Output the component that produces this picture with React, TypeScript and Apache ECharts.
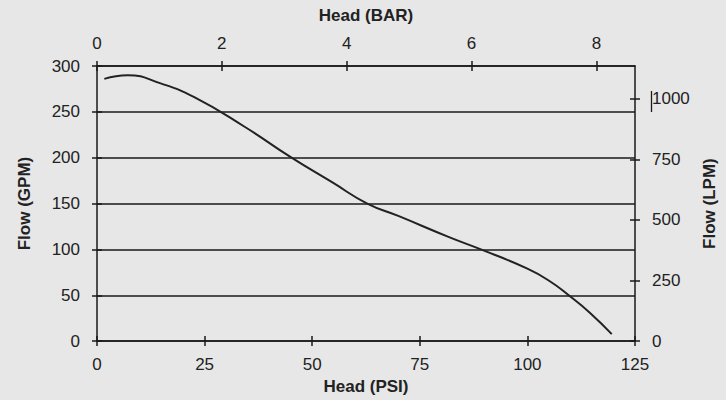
import React, { useEffect, useRef } from "react";
import * as echarts from "echarts";

const headPsi = [1.7, 7.1, 14.8, 22.6, 34.2, 45.2, 54.7, 62.8, 70, 81.8, 89.2, 100, 105.3, 109.6, 114.5, 119.6];
const flowGpm = [286, 290, 281, 266, 234, 200, 173, 150, 136.5, 113.4, 100, 79, 65, 50, 31, 7.6];
const barTicks = [0, 2, 4, 6, 8];
const lpmTicks = [0, 250, 500, 750, 1000];
const PSI_PER_BAR = 14.5038;
const LPM_PER_GPM = 3.78541;
const PSI_MAX = 125;
const GPM_MAX = 300;

const FONT = "'Liberation Sans', Arial, sans-serif";
const INK = "#1a1a1a";

export default function App() {
  const ref = useRef<HTMLDivElement>(null);
  useEffect(() => {
    if (!ref.current) return;
    const chart = echarts.init(ref.current, null, { renderer: "svg" });
    const lbl = { color: "#222", fontSize: 17, fontFamily: FONT, formatter: (v: number) => String(v) };
    const nameStyle = { color: "#222", fontSize: 17, fontWeight: "bold", fontFamily: FONT };
    const line = { show: true, onZero: false, lineStyle: { color: INK, width: 1.5 } };
    const noLine = { show: false, onZero: false };
    const tickOut = { show: true, length: 5, lineStyle: { color: INK, width: 1.5 } };
    const tickIn = { show: true, inside: true, length: 5, lineStyle: { color: INK, width: 1.5 } };
    const barMax = PSI_MAX / PSI_PER_BAR;
    const lpmMax = GPM_MAX * LPM_PER_GPM;
    const data = headPsi.map((x, i) => [x, flowGpm[i]]);
    chart.setOption({
      animation: false,
      backgroundColor: "#e7e7e7",
      grid: { left: 97, right: 90, top: 66, bottom: 57, containLabel: false },
      xAxis: [
        {
          type: "value", position: "bottom", min: 0, max: PSI_MAX, interval: 25,
          name: "Head (PSI)", nameLocation: "middle", nameGap: 36, nameTextStyle: nameStyle,
          axisLine: line, axisTick: tickOut, axisLabel: { ...lbl, margin: 15 }, splitLine: { show: false },
        },
        {
          type: "value", position: "bottom", min: 0, max: PSI_MAX, interval: 25,
          axisLine: noLine, axisTick: tickIn, axisLabel: { show: false }, splitLine: { show: false },
        },
        {
          type: "value", position: "top", min: 0, max: barMax,
          name: "Head (BAR)", nameLocation: "middle", nameGap: 42, nameTextStyle: nameStyle,
          axisLine: line,
          axisTick: { ...tickOut, customValues: barTicks },
          axisLabel: { ...lbl, margin: 14, customValues: barTicks },
          splitLine: { show: false },
        },
        {
          type: "value", position: "top", min: 0, max: barMax,
          axisLine: noLine,
          axisTick: { ...tickIn, customValues: barTicks },
          axisLabel: { show: false }, splitLine: { show: false },
        },
      ],
      yAxis: [
        {
          type: "value", position: "left", min: 0, max: GPM_MAX, interval: 50,
          name: "Flow (GPM)", nameLocation: "middle", nameGap: 64, nameTextStyle: nameStyle,
          axisLine: line, axisTick: tickOut, axisLabel: { ...lbl, margin: 17 },
          splitLine: { show: true, lineStyle: { color: INK, width: 1.5 } },
        },
        {
          type: "value", position: "left", min: 0, max: GPM_MAX, interval: 50,
          axisLine: noLine, axisTick: tickIn, axisLabel: { show: false }, splitLine: { show: false },
        },
        {
          type: "value", position: "right", min: 0, max: lpmMax,
          name: "Flow (LPM)", nameLocation: "middle", nameGap: 66, nameTextStyle: nameStyle,
          axisLine: line,
          axisTick: { ...tickOut, customValues: lpmTicks },
          axisLabel: { ...lbl, margin: 17, customValues: lpmTicks },
          splitLine: { show: false },
        },
        {
          type: "value", position: "right", min: 0, max: lpmMax,
          axisLine: noLine,
          axisTick: { ...tickIn, customValues: lpmTicks },
          axisLabel: { show: false }, splitLine: { show: false },
        },
      ],
      graphic: [
        { type: "line", shape: { x1: 651.5, y1: 91, x2: 651.5, y2: 112 }, style: { stroke: INK, lineWidth: 1.3 } },
      ],
      series: [
        {
          type: "line", xAxisIndex: 0, yAxisIndex: 0, data, smooth: 0.5, showSymbol: false,
          lineStyle: { color: "#222", width: 2 },
        },
      ],
    });
    return () => chart.dispose();
  }, []);
  return <div ref={ref} style={{ position: "fixed", left: 0, top: 0, width: 726, height: 400 }} />;
}
